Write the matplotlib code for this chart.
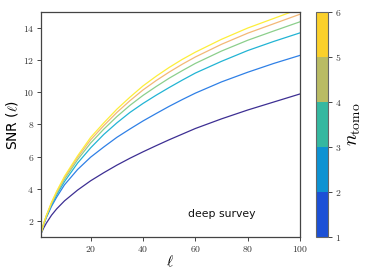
import matplotlib
matplotlib.use("Agg")
import matplotlib.pyplot as plt
import matplotlib as mpl
from matplotlib.colors import ListedColormap, BoundaryNorm
from matplotlib.ticker import FuncFormatter

plt.rcParams['mathtext.fontset'] = 'cm'

ell = [1, 2, 3, 5, 7, 10, 15, 20, 25, 30, 35, 40, 45, 50, 55, 60, 70, 80, 90, 100]
snr_n1 = [1.2, 1.55, 1.85, 2.35, 2.75, 3.25, 3.92, 4.5, 5.0, 5.47, 5.9, 6.3, 6.68, 7.05, 7.4, 7.75, 8.35, 8.9, 9.4, 9.9]
snr_n2 = [1.2, 1.76, 2.19, 2.9, 3.48, 4.25, 5.2, 5.97, 6.6, 7.2, 7.72, 8.22, 8.68, 9.13, 9.55, 9.95, 10.65, 11.25, 11.8, 12.3]
snr_n3 = [1.2, 1.78, 2.24, 2.99, 3.62, 4.45, 5.6, 6.55, 7.38, 8.1, 8.75, 9.31, 9.82, 10.3, 10.76, 11.2, 11.93, 12.6, 13.17, 13.7]
snr_n4 = [1.2, 1.8, 2.28, 3.06, 3.73, 4.6, 5.81, 6.85, 7.71, 8.49, 9.19, 9.81, 10.36, 10.88, 11.35, 11.8, 12.57, 13.24, 13.82, 14.39]
snr_n5 = [1.2, 1.81, 2.3, 3.11, 3.8, 4.7, 5.95, 7.05, 7.93, 8.75, 9.48, 10.15, 10.73, 11.26, 11.75, 12.2, 12.99, 13.68, 14.27, 14.86]
snr_n6 = [1.2, 1.82, 2.32, 3.15, 3.85, 4.78, 6.05, 7.2, 8.1, 8.95, 9.7, 10.4, 11.0, 11.55, 12.05, 12.5, 13.3, 14.0, 14.6, 15.2]
series = [snr_n1, snr_n2, snr_n3, snr_n4, snr_n5, snr_n6]
line_colors = ['#3d2f93', '#2f80e6', '#22b4d4', '#8ccf8c', '#f3b877', '#fdee3a']

cbar_colors = ['#1c50d6', '#0d92d2', '#35b8a0', '#b9bb63', '#fbd02a']
cbar_bounds = [1, 2, 3, 4, 5, 6]

fig = plt.figure(figsize=(3.74, 2.8), dpi=100)
ax = fig.add_axes([0.1096, 0.1536, 0.6925, 0.8036])
for s, c in zip(series, line_colors):
    ax.plot(ell, s, color=c, lw=0.9)
ax.set_xlim(1, 100)
ax.set_ylim(1, 15)
ax.set_xticks([20, 40, 60, 80, 100])
ax.set_yticks([2, 4, 6, 8, 10, 12, 14])
fmt = FuncFormatter(lambda v, p: r'$%d$' % v)
ax.xaxis.set_major_formatter(fmt)
ax.yaxis.set_major_formatter(fmt)
ax.tick_params(labelsize=7, length=3, width=0.7, colors='#444444', labelcolor='#333333', pad=2)
for sp in ax.spines.values():
    sp.set_color('#444444')
    sp.set_linewidth(0.9)
ax.set_xlabel(r'$\ell$', fontsize=11, labelpad=0)
ax.set_ylabel(r'SNR ($\ell$)', fontsize=10, labelpad=2)
ax.text(0.568, 0.10, 'deep survey', transform=ax.transAxes, fontsize=7.8,
        ha='left', va='center', color='#111111')

cax = fig.add_axes([0.845, 0.1536, 0.032, 0.8036])
cmap = ListedColormap(cbar_colors)
norm = BoundaryNorm(cbar_bounds, cmap.N)
cb = mpl.colorbar.ColorbarBase(cax, cmap=cmap, norm=norm, ticks=cbar_bounds)
cb.ax.yaxis.set_major_formatter(fmt)
cb.ax.tick_params(labelsize=7, length=3, width=0.7, colors='#444444', labelcolor='#333333', pad=2)
cb.outline.set_edgecolor('#666666')
cb.outline.set_linewidth(0.8)
cb.set_label(r'$n_{\rm tomo}$', fontsize=14, labelpad=2)

fig.savefig('out.png', dpi=100)
